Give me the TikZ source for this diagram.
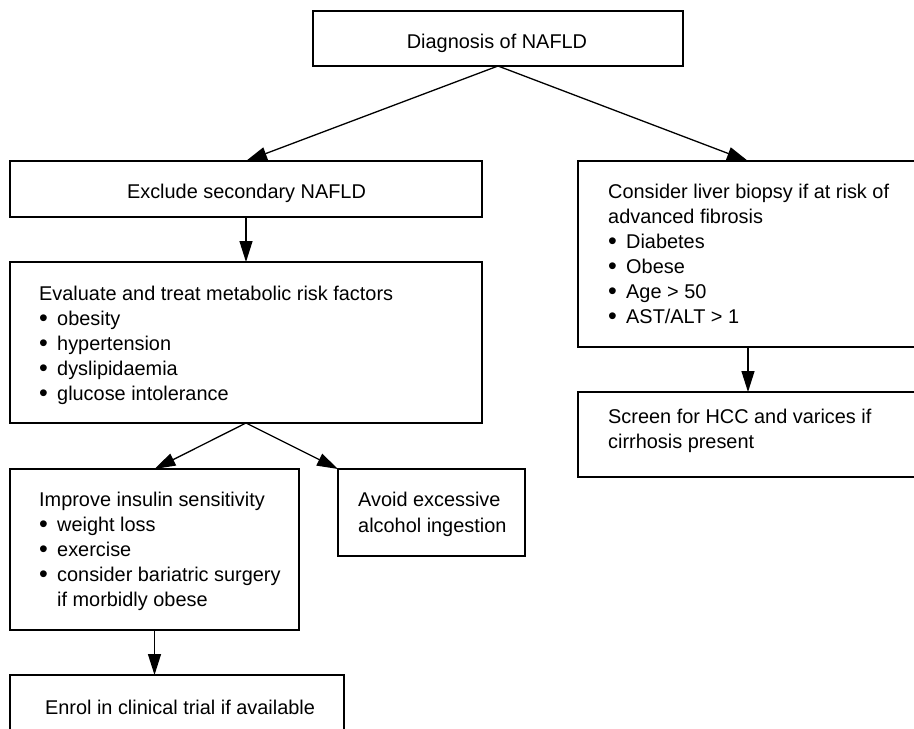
\documentclass[tikz,border=0pt]{standalone}
\usepackage{fontspec}
\setmainfont{Liberation Sans}
\usetikzlibrary{arrows.meta}
\newcommand\blt{\makebox[18pt][l]{\raisebox{-1.8pt}{\fontsize{25pt}{25pt}\selectfont\textbullet}}}
\tikzset{
  box/.style={draw=black, line width=1.3pt, anchor=north west, inner sep=0pt, outer sep=0pt, fill=white},
  txt/.style={anchor=base west, inner sep=0pt, font=\fontsize{19.9pt}{25pt}\selectfont},
  ctxt/.style={anchor=base, inner sep=0pt, font=\fontsize{19.9pt}{25pt}\selectfont},
  arr/.style={line width=1.3pt, -{Triangle[length=21pt,width=13pt]}}
}
\begin{document}
\begin{tikzpicture}[x=1pt,y=-1pt]
\useasboundingbox (0,0) rectangle (914,729);
\clip (0,0) rectangle (914,729);
\fill[white] (0,0) rectangle (914,729);
% boxes
\node[box, minimum width=370pt, minimum height=55pt] (diag) at (313,11) {};
\node[box, minimum width=472pt, minimum height=56pt] (excl) at (10,161) {};
\node[box, minimum width=340pt, minimum height=186pt] (biop) at (578,161) {};
\node[box, minimum width=472pt, minimum height=161pt] (eval) at (10,262) {};
\node[box, minimum width=340pt, minimum height=85pt] (scrn) at (578,392) {};
\node[box, minimum width=289pt, minimum height=161pt] (impr) at (10,469) {};
\node[box, minimum width=187pt, minimum height=87pt] (avoid) at (338,469) {};
\node[box, minimum width=334pt, minimum height=70pt] (enrol) at (10,675) {};
% texts
\node[ctxt] (tdiag) at (497,48) {Diagnosis of NAFLD};
\node[ctxt] (texcl) at (246.5,198) {Exclude secondary NAFLD};
\node[txt] (ev1) at (39,300) {Evaluate and treat metabolic risk factors};
\node[txt] (ev2) at (39,325) {\blt obesity};
\node[txt] (ev3) at (39,350) {\blt hypertension};
\node[txt] (ev4) at (39,375) {\blt dyslipidaemia};
\node[txt] (ev5) at (39,400) {\blt glucose intolerance};
\node[txt] (bi1) at (608,198) {Consider liver biopsy if at risk of};
\node[txt] (bi2) at (608,223) {advanced fibrosis};
\node[txt] (bi3) at (608,248) {\blt Diabetes};
\node[txt] (bi4) at (608,273) {\blt Obese};
\node[txt] (bi5) at (608,298) {\blt Age > 50};
\node[txt] (bi6) at (608,323) {\blt AST/ALT > 1};
\node[txt] (sc1) at (608,423) {Screen for HCC and varices if};
\node[txt] (sc2) at (608,448) {cirrhosis present};
\node[txt] (im1) at (39,506) {Improve insulin sensitivity};
\node[txt] (im2) at (39,531) {\blt weight loss};
\node[txt] (im3) at (39,556) {\blt exercise};
\node[txt] (im4) at (39,581) {\blt consider bariatric surgery};
\node[txt] (im5) at (57,606) {if morbidly obese};
\node[txt] (av1) at (358,506) {Avoid excessive};
\node[txt] (av2) at (358,532) {alcohol ingestion};
\node[ctxt] (ten) at (180,714) {Enrol in clinical trial if available};
% connectors
\draw[arr] (diag.south) -- (excl.north);
\draw[arr] (diag.south) -- (biop.north);
\draw[arr] (excl.south) -- (eval.north);
\draw[arr] (biop.south) -- (scrn.north);
\draw[arr] (eval.south) -- (impr.north);
\draw[arr] (eval.south) -- (avoid.north west);
\draw[arr] (impr.south) -- (impr.south |- enrol.north);
\end{tikzpicture}
\end{document}
